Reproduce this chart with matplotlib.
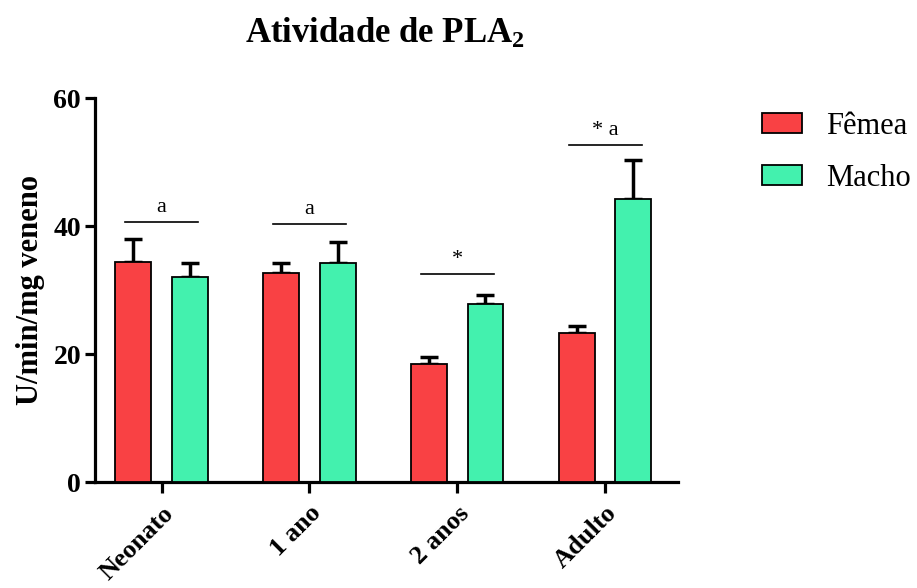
import matplotlib
matplotlib.use("Agg")
import matplotlib.pyplot as plt
import numpy as np
from matplotlib.patches import Patch

categories = ["Neonato", "1 ano", "2 anos", "Adulto"]
femea = [34.4, 32.7, 18.5, 23.3]
femea_err = [3.6, 1.5, 1.0, 1.1]
macho = [32.1, 34.3, 27.8, 44.2]
macho_err = [2.2, 3.3, 1.4, 6.1]
bracket_y = [40.7, 40.3, 32.5, 52.7]
bracket_txt = ["a", "a", "*", "* a"]

plt.rcParams['font.family'] = ['Liberation Serif', 'DejaVu Serif']
plt.rcParams['mathtext.fontset'] = 'custom'
plt.rcParams['mathtext.rm'] = 'Liberation Serif:bold'
plt.rcParams['mathtext.bf'] = 'Liberation Serif:bold'
plt.rcParams['mathtext.it'] = 'Liberation Serif:bold'

fig = plt.figure(figsize=(9.17, 5.88), dpi=100)
ax = fig.add_axes([0.1036, 0.180, 0.6355, 0.653])

x = np.arange(len(categories))
off = 0.19
w = 0.243
red = "#F94144"
green = "#43F1AE"
ax.bar(x - off, femea, w, color=red, edgecolor="black", linewidth=1.3, zorder=3)
ax.bar(x + off, macho, w, color=green, edgecolor="black", linewidth=1.3, zorder=3)
ax.errorbar(x - off, femea, yerr=[np.zeros(4), femea_err], fmt="none", ecolor="black",
            elinewidth=2.5, capsize=6.5, capthick=2.5, zorder=2)
ax.errorbar(x + off, macho, yerr=[np.zeros(4), macho_err], fmt="none", ecolor="black",
            elinewidth=2.5, capsize=6.5, capthick=2.5, zorder=2)

for i in range(len(categories)):
    ax.plot([x[i] - 0.245, x[i] + 0.245], [bracket_y[i]] * 2, color="black", lw=1.2,
            clip_on=False)
    ax.text(x[i], bracket_y[i] + 0.8, bracket_txt[i], ha="center", va="bottom",
            fontsize=16)

ax.set_xlim(-0.45, 3.49)
ax.set_ylim(0, 60)
ax.set_yticks([0, 20, 40, 60])
ax.set_xticks(x)
ax.set_xticklabels(categories, rotation=45, ha="right", rotation_mode="anchor",
                   fontsize=19, fontweight="bold")
for lab in ax.get_yticklabels():
    lab.set_fontsize(20)
    lab.set_fontweight("bold")
ax.spines["top"].set_visible(False)
ax.spines["right"].set_visible(False)
ax.spines["left"].set_linewidth(2.3)
ax.spines["bottom"].set_linewidth(2.3)
ax.tick_params(axis="y", length=7, width=2.3, pad=3)
ax.tick_params(axis="x", length=8, width=2.3, pad=6)
ax.set_ylabel("U/min/mg veneno", fontsize=22, fontweight="bold", labelpad=6)
fig.text(0.42, 1 - 43 / 588, "Atividade de PLA$_2$", ha="center", va="baseline",
         fontsize=25, fontweight="bold")

handles = [Patch(facecolor=red, edgecolor="black", linewidth=1.3, label="Fêmea"),
           Patch(facecolor=green, edgecolor="black", linewidth=1.3, label="Macho")]
fig.legend(handles=handles, loc="upper left", bbox_to_anchor=(0.831, 0.810),
           frameon=False, fontsize=22, handlelength=1.31, handleheight=0.62,
           handletextpad=0.78, labelspacing=0.75, borderpad=0, borderaxespad=0)

fig.savefig("out.png", dpi=100)
